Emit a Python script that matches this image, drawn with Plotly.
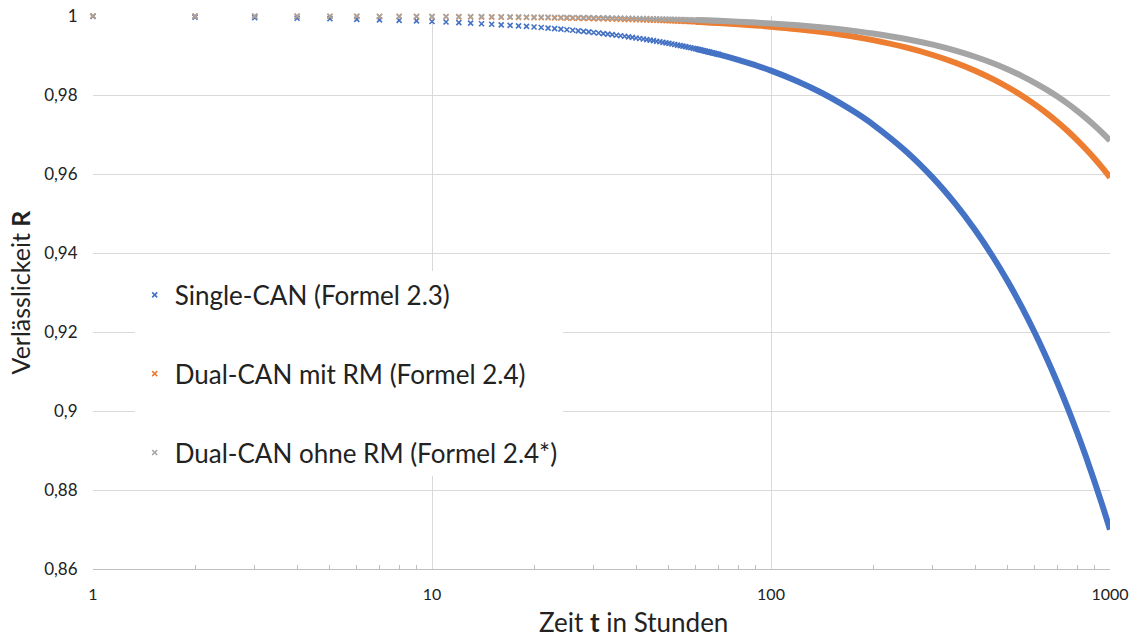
import plotly.graph_objects as go

# ---- data ----
t_marker = [1, 2, 3, 4, 5, 6, 7, 8, 9, 10,
            11, 12, 13, 14, 15, 16, 17, 18, 19, 20,
            21, 22, 23, 24, 25, 26, 27, 28, 29, 30,
            31, 32, 33, 34, 35, 36, 37, 38, 39, 40,
            41, 42, 43, 44, 45, 46, 47, 48, 49, 50,
            51, 52, 53, 54, 55, 56, 57, 58, 59, 60,
            61, 62, 63, 64, 65, 66, 67, 68, 69, 70]

single_marker = [0.99986, 0.99972, 0.99958, 0.99944, 0.99930, 0.99916, 0.99903, 0.99889, 0.99875, 0.99861,
                 0.99847, 0.99833, 0.99819, 0.99805, 0.99791, 0.99777, 0.99763, 0.99750, 0.99736, 0.99722,
                 0.99708, 0.99694, 0.99680, 0.99666, 0.99652, 0.99638, 0.99625, 0.99611, 0.99597, 0.99583,
                 0.99569, 0.99555, 0.99541, 0.99527, 0.99514, 0.99500, 0.99486, 0.99472, 0.99458, 0.99444,
                 0.99431, 0.99417, 0.99403, 0.99389, 0.99375, 0.99361, 0.99347, 0.99334, 0.99320, 0.99306,
                 0.99292, 0.99278, 0.99264, 0.99251, 0.99237, 0.99223, 0.99209, 0.99195, 0.99182, 0.99168,
                 0.99154, 0.99140, 0.99126, 0.99112, 0.99099, 0.99085, 0.99071, 0.99057, 0.99043, 0.99030]

dual_rm_marker = [0.99999, 0.99997, 0.99996, 0.99994, 0.99992, 0.99990, 0.99988, 0.99986, 0.99984, 0.99982,
                  0.99980, 0.99978, 0.99976, 0.99973, 0.99971, 0.99969, 0.99967, 0.99964, 0.99962, 0.99960,
                  0.99957, 0.99955, 0.99952, 0.99950, 0.99947, 0.99945, 0.99942, 0.99940, 0.99937, 0.99935,
                  0.99932, 0.99930, 0.99927, 0.99924, 0.99922, 0.99919, 0.99916, 0.99914, 0.99911, 0.99908,
                  0.99906, 0.99903, 0.99900, 0.99897, 0.99895, 0.99892, 0.99889, 0.99886, 0.99884, 0.99881,
                  0.99878, 0.99875, 0.99872, 0.99869, 0.99867, 0.99864, 0.99861, 0.99858, 0.99855, 0.99852,
                  0.99849, 0.99846, 0.99843, 0.99841, 0.99838, 0.99835, 0.99832, 0.99829, 0.99826, 0.99823]

dual_marker = [0.99999, 0.99998, 0.99997, 0.99996, 0.99995, 0.99994, 0.99993, 0.99991, 0.99990, 0.99989,
               0.99987, 0.99986, 0.99984, 0.99983, 0.99981, 0.99980, 0.99978, 0.99977, 0.99975, 0.99973,
               0.99972, 0.99970, 0.99968, 0.99967, 0.99965, 0.99963, 0.99962, 0.99960, 0.99958, 0.99956,
               0.99954, 0.99953, 0.99951, 0.99949, 0.99947, 0.99945, 0.99944, 0.99942, 0.99940, 0.99938,
               0.99936, 0.99934, 0.99932, 0.99930, 0.99928, 0.99926, 0.99924, 0.99922, 0.99920, 0.99918,
               0.99916, 0.99914, 0.99912, 0.99910, 0.99908, 0.99906, 0.99904, 0.99902, 0.99900, 0.99898,
               0.99896, 0.99894, 0.99892, 0.99890, 0.99888, 0.99886, 0.99883, 0.99881, 0.99879, 0.99877]

# dense part (markers overlap into a solid band in the reference)
t_dense = [60, 70, 80, 90, 100, 120, 140, 160, 180, 200, 250, 300, 350, 400, 450,
           500, 550, 600, 650, 700, 750, 800, 850, 900, 950, 1000]
single_dense = [0.99168, 0.99030, 0.98892, 0.98754, 0.98617, 0.98342, 0.98069, 0.97796, 0.97524,
                0.97252, 0.96577, 0.95907, 0.95241, 0.94580, 0.93924, 0.93272, 0.92625, 0.91982,
                0.91343, 0.90709, 0.90080, 0.89455, 0.88834, 0.88217, 0.87605, 0.86997]
dual_rm_dense = [0.99852, 0.99823, 0.99792, 0.99762, 0.99730, 0.99665, 0.99598, 0.99530, 0.99460,
                 0.99388, 0.99204, 0.99013, 0.98816, 0.98614, 0.98407, 0.98196, 0.97982, 0.97763,
                 0.97542, 0.97317, 0.97089, 0.96859, 0.96626, 0.96391, 0.96153, 0.95913]
dual_dense = [0.99898, 0.99877, 0.99855, 0.99833, 0.99810, 0.99763, 0.99714, 0.99663, 0.99611,
              0.99557, 0.99419, 0.99274, 0.99124, 0.98969, 0.98810, 0.98646, 0.98479, 0.98309,
              0.98136, 0.97959, 0.97780, 0.97598, 0.97414, 0.97227, 0.97038, 0.96847]

series_names = ["Single-CAN (Formel 2.3)", "Dual-CAN mit RM (Formel 2.4)", "Dual-CAN ohne RM (Formel 2.4*)"]
series_colors = ["#4472C4", "#ED7D31", "#A5A5A5"]

x_tickvals = [1, 10, 100, 1000]
x_ticktext = ["1", "10", "100", "1000"]
x_minor_vals = [2, 3, 4, 5, 6, 7, 8, 9, 20, 30, 40, 50, 60, 70, 80, 90,
                200, 300, 400, 500, 600, 700, 800, 900]
y_tickvals = [0.86, 0.88, 0.90, 0.92, 0.94, 0.96, 0.98, 1.0]
y_ticktext = ["0,86", "0,88", "0,9", "0,92", "0,94", "0,96", "0,98", "1"]
x_title = "Zeit <b>t</b> in Stunden"
y_title = "Verlässlickeit <b>R</b>"

FONT = "Lato, 'Open Sans', sans-serif"

fig = go.Figure()
marker_sets = [single_marker, dual_rm_marker, dual_marker]
dense_sets = [single_dense, dual_rm_dense, dual_dense]
for i in range(3):
    fig.add_trace(go.Scatter(
        x=t_marker, y=marker_sets[i], mode="markers", name=series_names[i],
        legendgroup="g%d" % i, cliponaxis=False,
        marker=dict(symbol="x-thin", size=5, color=series_colors[i],
                    line=dict(width=1.6, color=series_colors[i]))))
    fig.add_trace(go.Scatter(
        x=t_dense, y=dense_sets[i], mode="lines", showlegend=False,
        legendgroup="g%d" % i, cliponaxis=False, hoverinfo="skip",
        line=dict(color=series_colors[i], width=6, shape="spline")))

fig.update_layout(
    template="none",
    width=1140, height=639,
    margin=dict(l=93, r=30, t=16, b=70),
    paper_bgcolor="white", plot_bgcolor="white",
    font=dict(family=FONT, color="#404040"),
    showlegend=True,
    legend=dict(x=0.041, y=0.538, xanchor="left", yanchor="top",
                bgcolor="white", borderwidth=0,
                font=dict(size=26, color="#222222", family=FONT),
                traceorder="grouped", tracegroupgap=42,
                itemsizing="trace"),
    annotations=[dict(text=x_title, xref="paper", yref="paper",
                      x=0.531, y=-0.095, xanchor="center", yanchor="middle",
                      showarrow=False,
                      font=dict(size=26, color="#222222", family=FONT))],
)

fig.update_xaxes(
    type="log", range=[0, 3],
    tickmode="array", tickvals=x_tickvals, ticktext=x_ticktext,
    ticks="outside", ticklen=11, tickcolor="rgba(0,0,0,0)",
    tickfont=dict(size=16, color="#222222", family=FONT),
    showgrid=True, gridcolor="#d9d9d9", gridwidth=1,
    showline=True, linecolor="#bfbfbf", linewidth=1,
    zeroline=False, automargin=False,
    minor=dict(tickmode="array", tickvals=x_minor_vals, ticks="inside",
               ticklen=4, tickcolor="#bfbfbf", tickwidth=1, showgrid=False),
)
fig.update_yaxes(
    range=[0.86, 1.0],
    tickmode="array", tickvals=y_tickvals, ticktext=y_ticktext,
    ticks="outside", ticklen=11, tickcolor="rgba(0,0,0,0)",
    tickfont=dict(size=17, color="#222222", family=FONT),
    showgrid=True, gridcolor="#d9d9d9", gridwidth=1,
    showline=False, zeroline=False, automargin=False,
    title=dict(text=y_title, standoff=6,
               font=dict(size=25, color="#222222", family=FONT)),
)

fig.write_html("out.html", config={"displayModeBar": False},
               post_script="document.body.style.margin='0px';")
